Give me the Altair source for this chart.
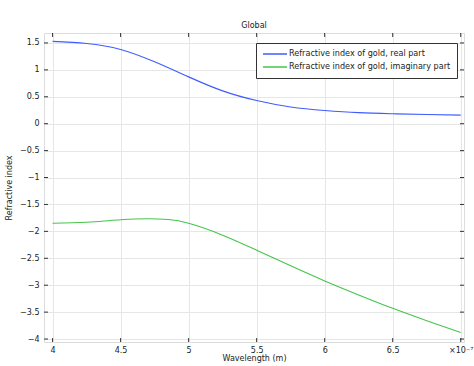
import altair as alt
import pandas as pd

# Data (wavelength in units of 1e-7 m)
wl_real = [4.0, 4.25, 4.5, 4.75, 5.0, 5.25, 5.5, 5.75, 6.0, 6.25, 6.5, 6.75, 7.0]
n_real = [1.53, 1.49, 1.38, 1.15, 0.87, 0.61, 0.43, 0.31, 0.245, 0.205, 0.185, 0.17, 0.16]
wl_imag = [4.0, 4.25, 4.5, 4.7, 4.85, 5.0, 5.25, 5.5, 5.75, 6.0, 6.25, 6.5, 6.75, 7.0]
n_imag = [-1.85, -1.83, -1.785, -1.765, -1.78, -1.85, -2.07, -2.35, -2.64, -2.92, -3.18, -3.43, -3.66, -3.88]

series_names = ["Refractive index of gold, real part",
                "Refractive index of gold, imaginary part"]
series_colors = ["#3f5cff", "#45c44a"]

x_ticks = [4.0, 4.5, 5.0, 5.5, 6.0, 6.5, 7.0]
y_ticks = [-4.0, -3.5, -3.0, -2.5, -2.0, -1.5, -1.0, -0.5, 0.0, 0.5, 1.0, 1.5]

df = pd.concat([
    pd.DataFrame({"wl": wl_real, "n": n_real, "series": series_names[0]}),
    pd.DataFrame({"wl": wl_imag, "n": n_imag, "series": series_names[1]}),
])

W, H = 420, 309
xscale = alt.Scale(domain=[3.937, 7.024], nice=False, zero=False)
yscale = alt.Scale(domain=[-4.055, 1.685], nice=False, zero=False)
FONT = "DejaVu Sans"

xaxis = alt.Axis(values=x_ticks, grid=True, gridColor="#e6e6e6", ticks=False, domain=False,
                 format="~g", labelOverlap=False, labelFlush=False,
                 labelFontSize=8, labelFont=FONT, labelColor="#222", labelPadding=4,
                 labelExpr="datum.value >= 6.99 ? '×10⁻⁷' : datum.label",
                 title="Wavelength (m)", titleFontSize=8, titleFont=FONT,
                 titleFontWeight="normal", titlePadding=0, titleColor="#222")
yaxis = alt.Axis(values=y_ticks, grid=True, gridColor="#e6e6e6", ticks=False, domain=False,
                 format="~g", labelOverlap=False, labelFlush=False,
                 labelFontSize=8, labelFont=FONT, labelColor="#222", labelPadding=5,
                 title="Refractive index", titleFontSize=8, titleFont=FONT,
                 titleFontWeight="normal", titlePadding=6, titleColor="#222")

lines = alt.Chart(df).mark_line(strokeWidth=1.1, interpolate="natural").encode(
    x=alt.X("wl:Q", scale=xscale, axis=xaxis),
    y=alt.Y("n:Q", scale=yscale, axis=yaxis),
    color=alt.Color("series:N",
                    scale=alt.Scale(domain=series_names, range=series_colors),
                    legend=alt.Legend(title=None, orient="none", legendX=212, legendY=10,
                                      fillColor="white", strokeColor="#333",
                                      padding=6, symbolType="stroke", symbolSize=576,
                                      clipHeight=10, labelOffset=1,
                                      symbolStrokeWidth=1.3, labelFont=FONT,
                                      labelFontSize=8.1, labelColor="#222",
                                      rowPadding=3, labelLimit=300)),
)

xt = pd.DataFrame({"t": x_ticks})
yt = pd.DataFrame({"t": y_ticks})
tk = "#333"
xb = alt.Chart(xt).mark_rule(color=tk).encode(x=alt.X("t:Q", scale=xscale, axis=xaxis), y=alt.value(H), y2=alt.value(H - 4))
xtp = alt.Chart(xt).mark_rule(color=tk).encode(x=alt.X("t:Q", scale=xscale, axis=xaxis), y=alt.value(0), y2=alt.value(4))
yl = alt.Chart(yt).mark_rule(color=tk).encode(y=alt.Y("t:Q", scale=yscale, axis=yaxis), x=alt.value(0), x2=alt.value(4))
yr = alt.Chart(yt).mark_rule(color=tk).encode(y=alt.Y("t:Q", scale=yscale, axis=yaxis), x=alt.value(W), x2=alt.value(W - 4))

chart = alt.layer(lines, xb, xtp, yl, yr).properties(
    width=W, height=H,
    title=alt.TitleParams("Global", fontSize=8, font=FONT, fontWeight="normal",
                          color="#222", offset=3),
    autosize=alt.AutoSizeParams(type="none"),
    padding={"left": 44, "top": 33, "right": 10, "bottom": 24},
).configure_view(stroke="#555", strokeWidth=1.5).configure_legend(
    strokeWidth=2
).configure(background="white")

chart.save("out.html", embed_options={"renderer": "svg", "actions": False})
